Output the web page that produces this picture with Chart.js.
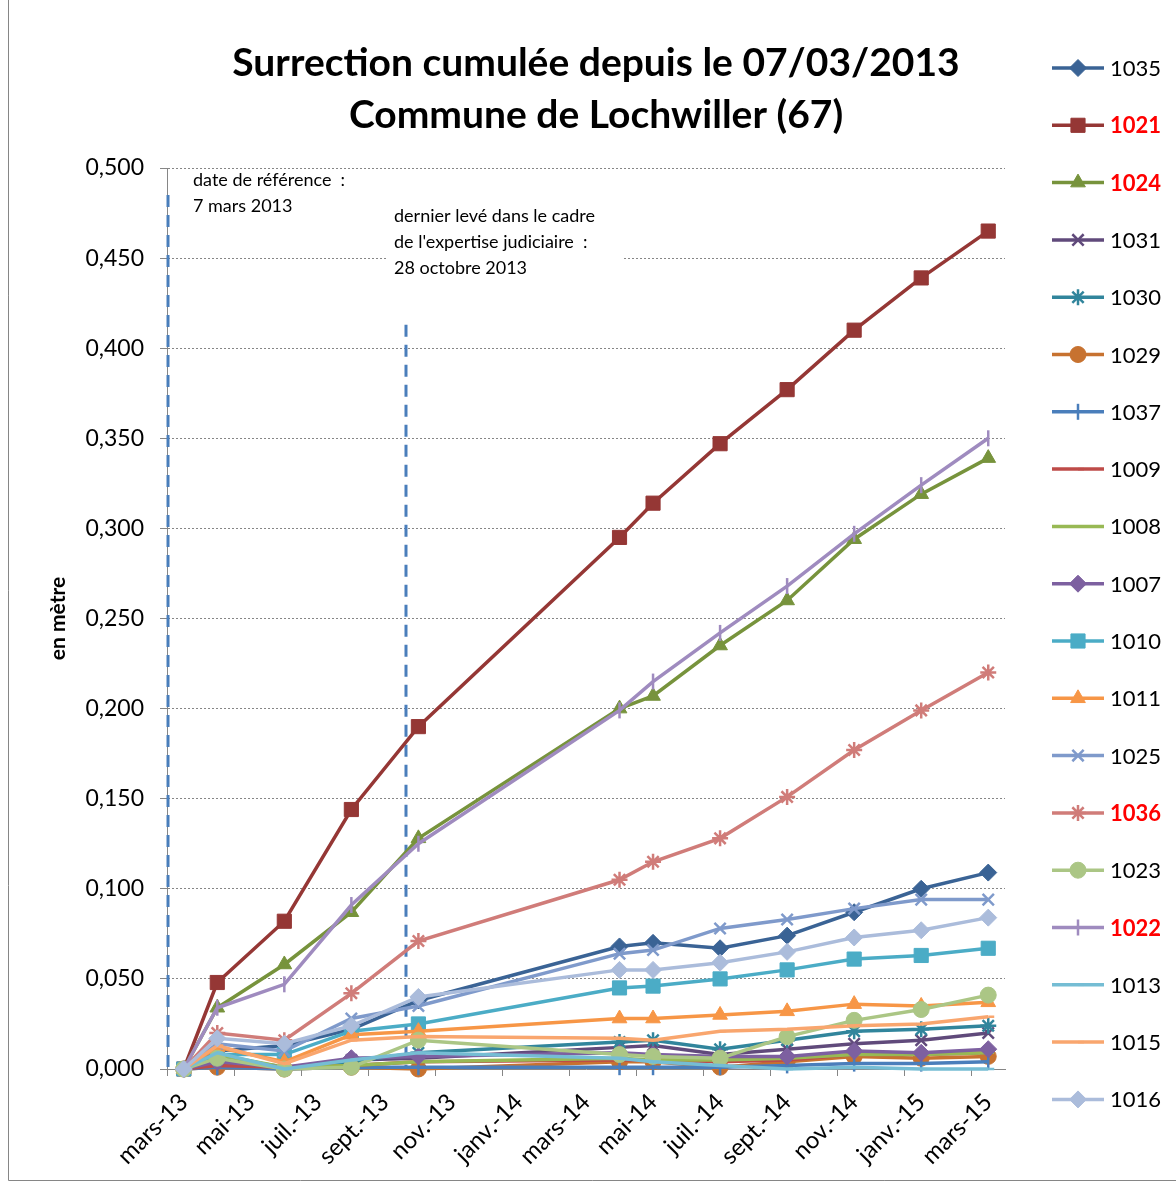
<!DOCTYPE html>
<html>
<head>
<meta charset="utf-8">
<script src="https://cdn.jsdelivr.net/npm/chart.js@4.4.1/dist/chart.umd.min.js"></script>
<style>
  html, body { margin: 0; padding: 0; background: #fff; }
  #wrap { width: 1176px; height: 1183px; position: relative; }
</style>
</head>
<body>
<div id="wrap"><canvas id="chart" width="1176" height="1183"></canvas></div>
<script>
  // Month slots on the date axis (mars-13 .. mars-15)
  const months = ['mars-13', 'avr.-13', 'mai-13', 'juin-13', 'juil.-13', 'août-13', 'sept.-13', 'oct.-13',
    'nov.-13', 'déc.-13', 'janv.-14', 'févr.-14', 'mars-14', 'avr.-14', 'mai-14', 'juin-14', 'juil.-14',
    'août-14', 'sept.-14', 'oct.-14', 'nov.-14', 'déc.-14', 'janv.-15', 'févr.-15', 'mars-15'];

  // slot of each survey (index in months)
  const surveySlots = [0, 1, 3, 5, 7, 13, 14, 16, 18, 20, 22, 24];

  // cumulated uplift (m) per benchmark, one value per survey
  const v1035 = [0, 0.010, 0.013, 0.022, 0.038, 0.068, 0.070, 0.067, 0.074, 0.087, 0.100, 0.109];
  const v1021 = [0, 0.048, 0.082, 0.144, 0.190, 0.295, 0.314, 0.347, 0.377, 0.410, 0.439, 0.465];
  const v1024 = [0, 0.034, 0.058, 0.087, 0.128, 0.200, 0.207, 0.235, 0.260, 0.294, 0.319, 0.339];
  const v1031 = [0, 0.004, 0.000, 0.005, 0.006, 0.012, 0.013, 0.008, 0.011, 0.014, 0.016, 0.020];
  const v1030 = [0, 0.007, 0.001, 0.004, 0.009, 0.015, 0.016, 0.011, 0.016, 0.021, 0.022, 0.024];
  const v1029 = [0, 0.001, 0.000, 0.001, 0.000, 0.004, 0.004, 0.001, 0.004, 0.007, 0.006, 0.007];
  const v1037 = [0, 0.001, 0.000, 0.001, 0.001, 0.001, 0.001, 0.001, 0.002, 0.003, 0.003, 0.004];
  const v1009 = [0, 0.002, 0.001, 0.002, 0.004, 0.005, 0.005, 0.004, 0.005, 0.008, 0.008, 0.009];
  const v1008 = [0, 0.008, 0.001, 0.002, 0.004, 0.006, 0.005, 0.005, 0.006, 0.008, 0.008, 0.009];
  const v1007 = [0, 0.004, 0.001, 0.006, 0.007, 0.009, 0.008, 0.007, 0.007, 0.010, 0.009, 0.011];
  const v1010 = [0, 0.008, 0.008, 0.021, 0.025, 0.045, 0.046, 0.050, 0.055, 0.061, 0.063, 0.067];
  const v1011 = [0, 0.012, 0.004, 0.019, 0.021, 0.028, 0.028, 0.030, 0.032, 0.036, 0.035, 0.037];
  const v1025 = [0, 0.014, 0.010, 0.028, 0.035, 0.064, 0.066, 0.078, 0.083, 0.089, 0.094, 0.094];
  const v1036 = [0, 0.020, 0.016, 0.042, 0.071, 0.105, 0.115, 0.128, 0.151, 0.177, 0.199, 0.220];
  const v1023 = [0, 0.006, 0.000, 0.001, 0.016, 0.008, 0.007, 0.006, 0.018, 0.027, 0.033, 0.041];
  const v1022 = [0, 0.034, 0.047, 0.091, 0.125, 0.199, 0.215, 0.242, 0.268, 0.297, 0.324, 0.350];
  const v1013 = [0, 0.009, 0.000, 0.005, 0.009, 0.006, 0.004, 0.002, 0.000, 0.001, 0.000, 0.000];
  const v1015 = [0, 0.013, 0.003, 0.016, 0.018, 0.017, 0.016, 0.021, 0.022, 0.024, 0.025, 0.029];
  const v1016 = [0, 0.017, 0.014, 0.024, 0.040, 0.055, 0.055, 0.059, 0.065, 0.073, 0.077, 0.084];

  const seriesNames  = ['1035', '1021', '1024', '1031', '1030', '1029', '1037', '1009', '1008', '1007',
                        '1010', '1011', '1025', '1036', '1023', '1022', '1013', '1015', '1016'];
  const seriesValues = [v1035, v1021, v1024, v1031, v1030, v1029, v1037, v1009, v1008, v1007,
                        v1010, v1011, v1025, v1036, v1023, v1022, v1013, v1015, v1016];
  // benchmarks written in red in the legend
  const redNames = ['1021', '1024', '1036', '1022'];

  // Style (Excel 2010 palette)
  const seriesColors = ['#3A6395', '#953735', '#77933C', '#604A7B', '#31859C', '#C77230', '#4A7EBB', '#BE4B48',
                        '#98B954', '#7D60A0', '#4BACC6', '#F79646', '#7F9ACB', '#D07C79', '#ABC685', '#9F8BBF',
                        '#75BDD4', '#F9A66E', '#ABBCDB'];
  const seriesMarkers = [
    ['rectRot', 8.5, 0], ['rect', 10, 0], ['triangle', 8.5, 0], ['crossRot', 8, 0], ['star', 8, 0],
    ['circle', 8, 0], ['line', 8, 90], ['dash', 6, 0], ['dash', 6, 0], ['rectRot', 8.5, 0],
    ['rect', 10, 0], ['triangle', 8.5, 0], ['crossRot', 8, 0], ['star', 8, 0], ['circle', 8, 0],
    ['line', 8, 90], ['dash', 6, 0], ['dash', 6, 0], ['rectRot', 8.5, 0]
  ];
  const strokeMarkers = ['crossRot', 'star', 'line', 'dash'];

  const FONT = 'Lato, "Open Sans", sans-serif';

  // put the survey values into the month slots
  function toSlots(vals) {
    const out = months.map(() => null);
    surveySlots.forEach((m, i) => { out[m] = vals[i]; });
    return out;
  }

  const datasets = seriesNames.map((name, i) => ({
    label: name,
    data: toSlots(seriesValues[i]),
    borderColor: seriesColors[i],
    backgroundColor: seriesColors[i],
    pointBackgroundColor: seriesColors[i],
    pointBorderColor: seriesColors[i],
    pointStyle: seriesMarkers[i][0],
    pointRadius: seriesMarkers[i][1],
    pointRotation: seriesMarkers[i][2],
    pointBorderWidth: strokeMarkers.includes(seriesMarkers[i][0]) ? 2.5 : 1,
    borderWidth: 3.5,
    tension: 0,
    spanGaps: true,
    clip: false,
    order: seriesNames.length - i, // later series on top, like Excel
  }));

  // Plugin - annotations (reference date / last judicial survey)
  const refLines = {
    id: 'refLines',
    beforeDatasetsDraw(chart) {
      const { ctx, chartArea, scales: { x, y } } = chart;
      const x1 = x.getPixelForValue(-0.47);
      const x2 = x.getPixelForValue(6.63);
      ctx.save();
      // white text box over the grid
      ctx.fillStyle = '#fff';
      ctx.fillRect(x2 - 18, chartArea.top + 32, 236, 82);
      ctx.strokeStyle = '#4A7EBB';
      ctx.lineWidth = 3;
      ctx.setLineDash([12, 8]);
      ctx.beginPath();
      ctx.moveTo(x1, y.getPixelForValue(0.485));
      ctx.lineTo(x1, chartArea.bottom);
      ctx.moveTo(x2, y.getPixelForValue(0.413));
      ctx.lineTo(x2, chartArea.bottom);
      ctx.stroke();
      ctx.setLineDash([]);

      ctx.fillStyle = '#000';
      ctx.font = '18px ' + FONT;
      ctx.textBaseline = 'middle';
      ctx.textAlign = 'left';
      ctx.fillText('date de référence  :', x1 + 25, chartArea.top + 12);
      ctx.fillText('7 mars 2013', x1 + 25, chartArea.top + 38);
      ctx.fillText('dernier levé dans le cadre', x2 - 12, chartArea.top + 48);
      ctx.fillText("de l'expertise judiciaire  :", x2 - 12, chartArea.top + 74);
      ctx.fillText('28 octobre 2013', x2 - 12, chartArea.top + 100);
      ctx.restore();
    }
  };

  // Plugin - title, Excel-like legend and frame
  const excelDecor = {
    id: 'excelDecor',
    afterDraw(chart) {
      const { ctx, chartArea } = chart;
      ctx.save();
      // frame
      ctx.strokeStyle = '#868686';
      ctx.lineWidth = 1;
      ctx.beginPath();
      ctx.moveTo(8.5, 0);
      ctx.lineTo(8.5, 1180.5);
      ctx.lineTo(1176, 1180.5);
      ctx.stroke();

      // title
      ctx.fillStyle = '#000';
      ctx.font = 'bold 39px ' + FONT;
      ctx.textAlign = 'center';
      ctx.textBaseline = 'middle';
      ctx.fillText('Surrection cumulée depuis le 07/03/2013', 596, 63);
      ctx.fillText('Commune de Lochwiller (67)', 596, 115);

      // legend
      const lx = chartArea.right + 47;
      chart.data.datasets.forEach((ds, i) => {
        const ly = 68 + i * 57.3;
        ctx.strokeStyle = ds.borderColor;
        ctx.lineWidth = 3.5;
        ctx.beginPath();
        ctx.moveTo(lx, ly);
        ctx.lineTo(lx + 52, ly);
        ctx.stroke();
        ctx.fillStyle = ds.pointBackgroundColor;
        ctx.strokeStyle = ds.pointBorderColor;
        ctx.lineWidth = ds.pointBorderWidth;
        Chart.helpers.drawPoint(ctx, {
          pointStyle: ds.pointStyle, radius: ds.pointRadius,
          rotation: ds.pointRotation, borderWidth: ds.pointBorderWidth
        }, lx + 26, ly);
        const red = redNames.includes(ds.label);
        ctx.fillStyle = red ? '#FF0000' : '#000';
        ctx.font = (red ? 'bold ' : '') + '22px ' + FONT;
        ctx.textAlign = 'left';
        ctx.textBaseline = 'middle';
        ctx.fillText(ds.label, lx + 58, ly + 1);
      });
      ctx.restore();
    }
  };

  // Config block
  const config = {
    type: 'line',
    data: { labels: months, datasets },
    options: {
      responsive: false,
      animation: false,
      layout: { padding: { top: 168, right: 171, left: 36, bottom: 0 } },
      plugins: {
        legend: { display: false },
        tooltip: { enabled: false },
      },
      scales: {
        x: {
          type: 'category',
          offset: true,
          grid: {
            offset: true,
            drawOnChartArea: false,
            tickLength: 7,
            color: (c) => (c.index % 2 === 0 ? '#868686' : 'rgba(0,0,0,0)'),
          },
          border: { color: '#868686', width: 1 },
          ticks: {
            autoSkip: false,
            maxRotation: 45,
            minRotation: 45,
            padding: 12,
            color: '#000',
            font: { family: FONT, size: 24 },
            callback: (v, i) => (i % 2 === 0 ? months[i] : ''),
          },
          afterFit: (s) => { s.height = 114; },
        },
        y: {
          min: 0,
          max: 0.5,
          ticks: {
            stepSize: 0.05,
            padding: 16,
            color: '#000',
            font: { family: FONT, size: 23 },
            callback: (v) => v.toFixed(3).replace('.', ','),
          },
          grid: { color: '#868686', tickLength: 7, tickBorderDash: [] },
          border: { color: '#868686', width: 1, dash: [2, 2] },
          title: {
            display: true,
            text: 'en mètre',
            color: '#000',
            font: { family: FONT, size: 21, weight: 'bold' },
            padding: { top: 10, bottom: 0 },
          },
          afterFit: (s) => { s.width = 167 - 36; },
        },
      },
    },
    plugins: [refLines, excelDecor],
  };

  // render block
  const mychart = new Chart(document.getElementById('chart'), config);
</script>
</body>
</html>
